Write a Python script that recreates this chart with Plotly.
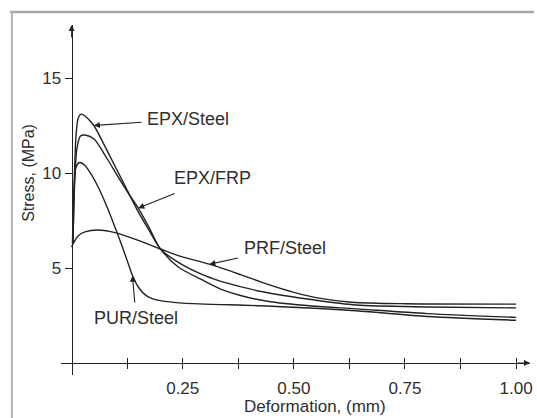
import plotly.graph_objects as go

# Stress-deformation curves of bonded joints (stress in MPa, deformation in mm)
EPX_STEEL_X = [0.003, 0.006, 0.010, 0.015, 0.021, 0.030, 0.050, 0.075, 0.100, 0.125, 0.150, 0.175, 0.200,
               0.240, 0.300, 0.340, 0.380, 0.440, 0.540, 0.640, 0.800, 1.000]
EPX_STEEL_Y = [6.3, 9.5, 12.0, 12.9, 13.1, 13.0, 12.5, 11.4, 10.25, 9.1, 7.95, 6.95, 6.0,
               5.05, 4.3, 3.85, 3.55, 3.25, 3.0, 2.85, 2.6, 2.4]

EPX_FRP_X = [0.003, 0.007, 0.012, 0.020, 0.030, 0.050, 0.080, 0.107, 0.130, 0.150, 0.175, 0.200,
             0.240, 0.300, 0.350, 0.430, 0.550, 0.640, 0.800, 1.000]
EPX_FRP_Y = [6.3, 9.5, 11.3, 11.95, 12.0, 11.8, 10.75, 9.7, 8.85, 8.15, 7.1, 6.0,
             5.3, 4.6, 4.2, 3.75, 3.3, 3.05, 2.95, 2.9]

PRF_STEEL_X = [0.000, 0.005, 0.015, 0.030, 0.060, 0.100, 0.150, 0.200, 0.240, 0.310, 0.380, 0.440,
               0.500, 0.560, 0.630, 0.750, 1.000]
PRF_STEEL_Y = [6.1, 6.35, 6.7, 6.9, 7.0, 6.85, 6.45, 6.0, 5.65, 5.2, 4.65, 4.15,
               3.72, 3.4, 3.2, 3.12, 3.1]

PUR_STEEL_X = [0.002, 0.005, 0.010, 0.018, 0.030, 0.045, 0.060, 0.080, 0.100, 0.115, 0.125, 0.137,
               0.150, 0.165, 0.180, 0.200, 0.250, 0.440, 0.640, 0.800, 1.000]
PUR_STEEL_Y = [6.3, 9.0, 10.3, 10.55, 10.4, 9.9, 9.25, 8.2, 7.0, 6.05, 5.4, 4.6,
               4.0, 3.6, 3.4, 3.28, 3.15, 3.0, 2.75, 2.45, 2.25]

X_TICKS = [0.125, 0.25, 0.375, 0.5, 0.625, 0.75, 0.875, 1.0]
X_TICK_TEXT = ["", "0.25", "", "0.50", "", "0.75", "", "1.00"]
Y_TICKS = [5, 10, 15]
Y_TICK_TEXT = ["5", "10", "15"]

# label text, index of the point the arrow points to, label centre (data units)
LABELS = [
    ("EPX/Steel", EPX_STEEL_X, EPX_STEEL_Y, 6, 0.262, 12.84),
    ("EPX/FRP", EPX_FRP_X, EPX_FRP_Y, 9, 0.318, 9.74),
    ("PRF/Steel", PRF_STEEL_X, PRF_STEEL_Y, 9, 0.479, 6.05),
    ("PUR/Steel", PUR_STEEL_X, PUR_STEEL_Y, 11, 0.145, 2.37),
]

W, H = 537, 418
INK = "#222222"
TEXT = "#2e2e2e"
FONT = "Liberation Sans, Arial, sans-serif"

X_RANGE = [-0.0246, 1.0313]
Y_RANGE = [-0.632, 17.79]
X_DOMAIN = [61 / W, 533 / W]
Y_DOMAIN = [(H - 375) / H, (H - 25) / H]
X_AXIS_POS = (H - 363) / H   # height of stress = 0
Y_AXIS_POS = 72 / W          # position of deformation = 0

fig = go.Figure()
for xs, ys in [(EPX_STEEL_X, EPX_STEEL_Y), (EPX_FRP_X, EPX_FRP_Y),
               (PRF_STEEL_X, PRF_STEEL_Y), (PUR_STEEL_X, PUR_STEEL_Y)]:
    fig.add_trace(go.Scatter(x=xs, y=ys, mode="lines",
                             line=dict(color=INK, width=1.4, shape="spline", smoothing=0.8),
                             showlegend=False, hoverinfo="skip"))
# carrier for the second x axis (inner half of the crossing ticks)
fig.add_trace(go.Scatter(x=[], y=[], xaxis="x2", yaxis="y", showlegend=False))

annotations = []
for text, xs, ys, i, tx, ty in LABELS:
    annotations.append(dict(
        x=xs[i], y=ys[i], xref="x", yref="y",
        ax=tx, ay=ty, axref="x", ayref="y",
        text=text, showarrow=True, arrowhead=2, arrowsize=1.1, arrowwidth=1.1,
        arrowcolor=INK, borderpad=5, standoff=0,
        font=dict(family=FONT, size=18, color=TEXT),
    ))

# axis titles
annotations.append(dict(x=317 / W, y=(H - 406) / H, xref="paper", yref="paper",
                        xanchor="center", yanchor="middle",
                        text="Deformation, (mm)", showarrow=False,
                        font=dict(family=FONT, size=17, color=TEXT)))
annotations.append(dict(x=28 / W, y=(H - 173) / H, xref="paper", yref="paper",
                        xanchor="center", yanchor="middle",
                        text="Stress, (MPa)", showarrow=False, textangle=-90,
                        font=dict(family=FONT, size=16, color=TEXT)))

# arrowheads at the ends of the axes
annotations.append(dict(x=Y_AXIS_POS, y=Y_DOMAIN[1], xref="paper", yref="paper",
                        ax=0, ay=14, text="", showarrow=True, arrowhead=2,
                        arrowsize=1.2, arrowwidth=1, arrowcolor=INK))
annotations.append(dict(x=X_DOMAIN[1], y=X_AXIS_POS, xref="paper", yref="paper",
                        ax=-14, ay=0, text="", showarrow=True, arrowhead=2,
                        arrowsize=1.2, arrowwidth=1, arrowcolor=INK))

fig.update_layout(
    width=W, height=H,
    margin=dict(l=0, r=0, t=0, b=0),
    paper_bgcolor="white", plot_bgcolor="white",
    font=dict(family=FONT, size=17, color=TEXT),
    xaxis=dict(domain=X_DOMAIN, range=X_RANGE, anchor="free", position=X_AXIS_POS,
               showgrid=False, zeroline=False, showline=True, linecolor=INK, linewidth=1,
               ticks="outside", ticklen=5, tickwidth=1, tickcolor=INK,
               tickvals=X_TICKS, ticktext=X_TICK_TEXT, ticklabelstandoff=5,
               tickfont=dict(family=FONT, size=17, color=TEXT)),
    xaxis2=dict(domain=X_DOMAIN, range=X_RANGE, anchor="free", position=X_AXIS_POS,
                overlaying="x", showgrid=False, zeroline=False, showline=False,
                ticks="inside", ticklen=5, tickwidth=1, tickcolor=INK,
                tickvals=X_TICKS, showticklabels=False),
    yaxis=dict(domain=Y_DOMAIN, range=Y_RANGE, anchor="free", position=Y_AXIS_POS,
               showgrid=False, zeroline=False, showline=True, linecolor=INK, linewidth=1,
               ticks="outside", ticklen=7, tickwidth=1, tickcolor=INK,
               tickvals=Y_TICKS, ticktext=Y_TICK_TEXT,
               tickfont=dict(family=FONT, size=17, color=TEXT)),
    annotations=annotations,
    shapes=[
        dict(type="line", xref="paper", yref="paper", x0=10 / W, x1=1, y0=(H - 12) / H, y1=(H - 12) / H,
             line=dict(color="#a8a8a8", width=2.5)),
        dict(type="line", xref="paper", yref="paper", x0=12 / W, x1=12 / W, y0=0, y1=(H - 11) / H,
             line=dict(color="#b0b0b0", width=2)),
    ],
)

fig.write_html("out.html")
